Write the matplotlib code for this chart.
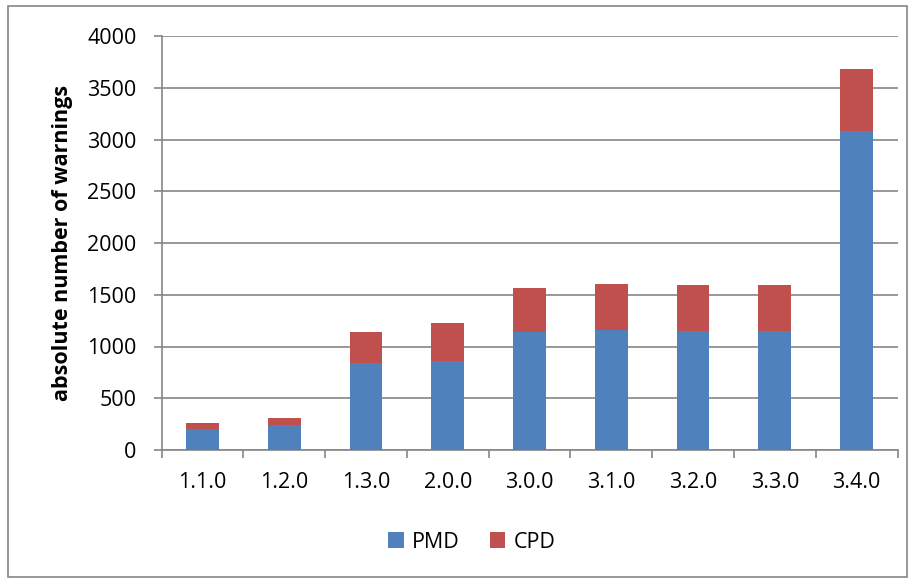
import numpy as np
import matplotlib.pyplot as plt
from matplotlib.patches import Rectangle

versions = ['1.1.0', '1.2.0', '1.3.0', '2.0.0', '3.0.0', '3.1.0', '3.2.0', '3.3.0', '3.4.0']
pmd = [200, 239, 837, 856, 1137, 1163, 1154, 1154, 3084]
cpd = [58, 67, 307, 371, 433, 439, 438, 445, 593]

col_pmd = '#4f81bd'
col_cpd = '#c0504d'
col_grid = '#868686'

plt.rcParams['font.family'] = ['Open Sans', 'DejaVu Sans']
fsz = 15.5

fig = plt.figure(figsize=(9.15, 5.81), dpi=100)
fig.patch.set_facecolor('w')
ax = fig.add_axes([161.5/915, 1-450/581, (897.5-161.5)/915, (450-36)/581])

ind = np.arange(len(versions))
width = 0.4
ax.bar(ind, pmd, width, color=col_pmd, label='PMD', zorder=3)
ax.bar(ind, cpd, width, bottom=pmd, color=col_cpd, label='CPD', zorder=3)

ax.set_xlim(-0.5, len(versions)-0.5)
ax.set_ylim(0, 4000)
ax.set_yticks(np.arange(0, 4001, 500))
ax.yaxis.grid(True, color=col_grid, linewidth=1.2, zorder=0)

# category ticks sit between the bars, labels under the bars
ax.set_xticks(np.arange(-0.5, len(versions)), minor=False)
ax.set_xticklabels([])
ax.set_xticks(ind, minor=True)
ax.set_xticklabels(versions, minor=True)
ax.tick_params(axis='x', which='major', length=6, width=1.2, color=col_grid, direction='out')
ax.tick_params(axis='x', which='minor', length=0, pad=16, labelsize=fsz)
ax.tick_params(axis='y', length=6, width=1.2, color=col_grid, direction='out', pad=12, labelsize=fsz)

for side in ['top', 'right']:
    ax.spines[side].set_visible(False)
for side in ['left', 'bottom']:
    ax.spines[side].set_color(col_grid)
    ax.spines[side].set_linewidth(1.2)

ax.set_ylabel('absolute number of warnings', fontsize=fsz, fontweight='bold', labelpad=10)

ax.legend(loc='center', bbox_to_anchor=(472/915, 1-542/581), bbox_transform=fig.transFigure,
          ncol=2, frameon=False, fontsize=fsz, handlelength=0.7, handleheight=0.7,
          handletextpad=0.4, columnspacing=1.4)

fig.add_artist(Rectangle((8/915, 1-577/581), 899/915, 571/581, transform=fig.transFigure,
                         fill=False, edgecolor=col_grid, linewidth=1.2))

fig.savefig('out.png', dpi=100)
